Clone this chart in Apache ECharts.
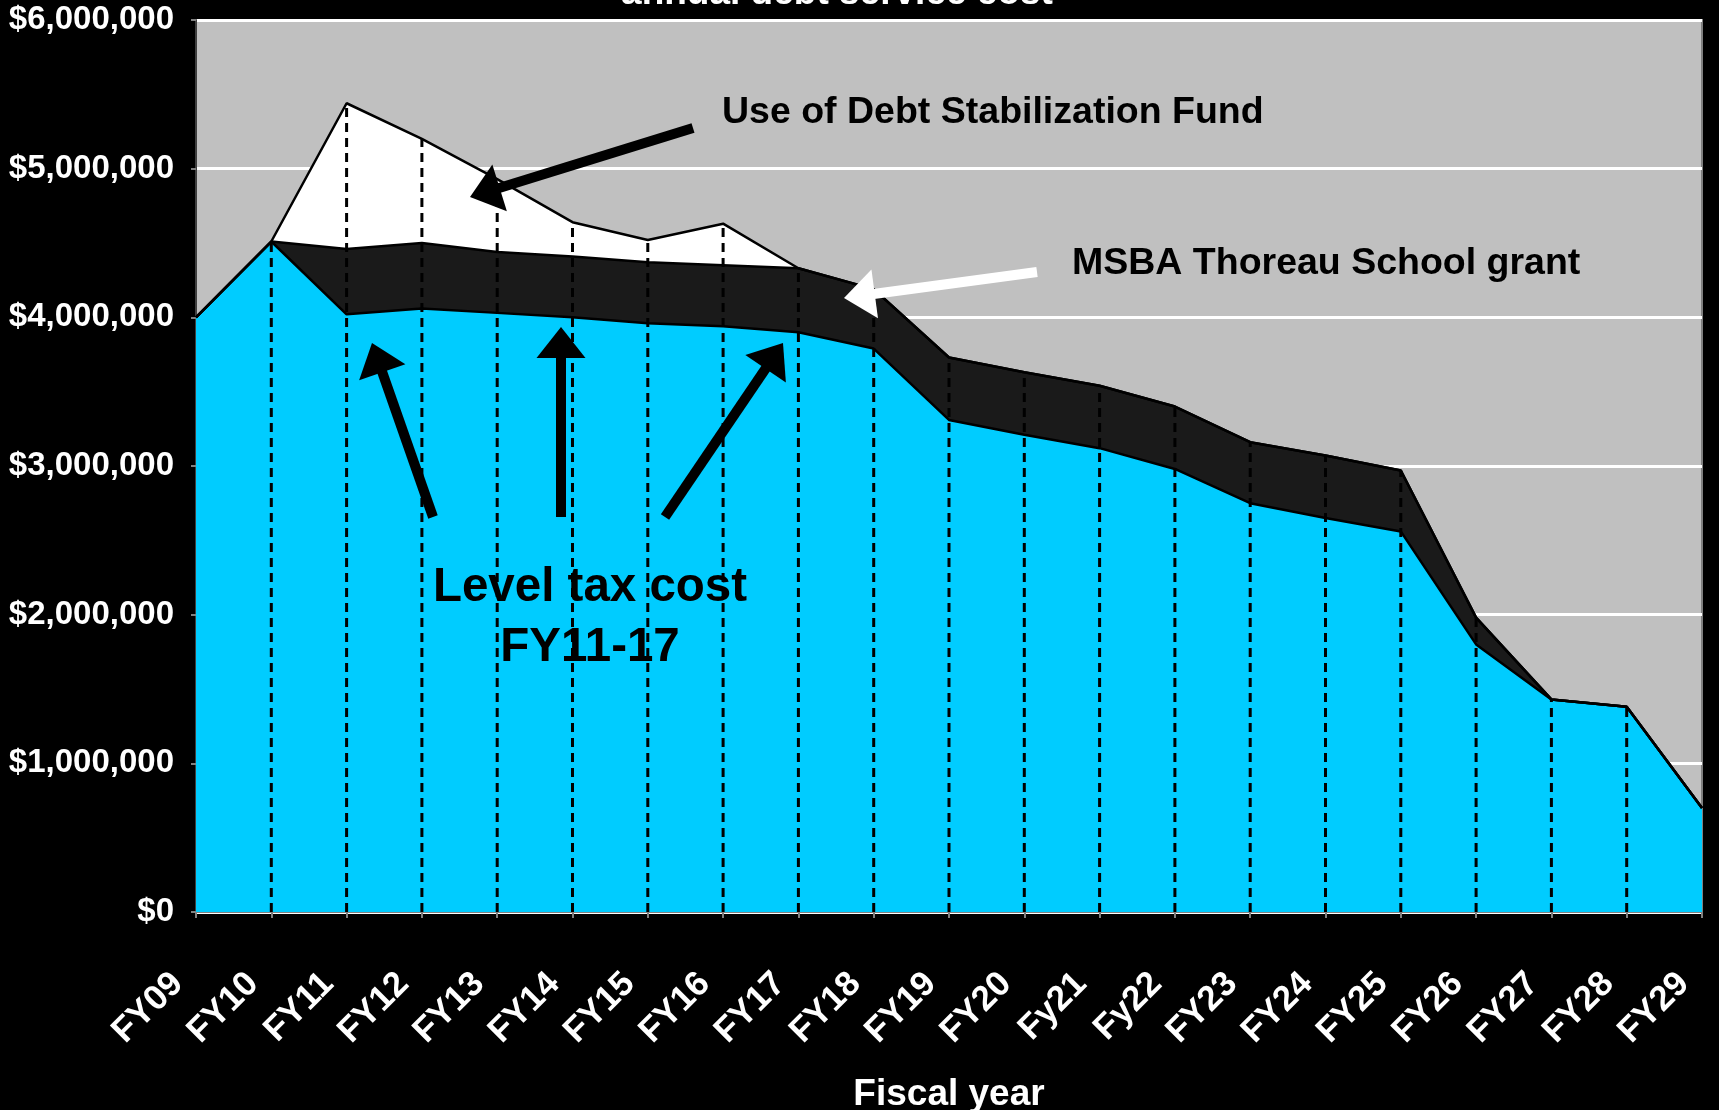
<!DOCTYPE html>
<html>
<head>
<meta charset="utf-8">
<title>annual debt service cost</title>
<script src="https://cdn.jsdelivr.net/npm/echarts@6/dist/echarts.min.js"></script>
<style>
  html, body { margin: 0; padding: 0; background: #000; }
  #chart { width: 1719px; height: 1110px; }
</style>
</head>
<body>
<div id="chart"></div>
<script>
// ── Data ────────────────────────────────────────────────────────────────────
const YEARS = ['FY09','FY10','FY11','FY12','FY13','FY14','FY15','FY16','FY17','FY18','FY19',
               'FY20','Fy21','Fy22','FY23','FY24','FY25','FY26','FY27','FY28','FY29'];

// level tax cost (blue, bottom layer)
const LEVEL_TAX = [4000000, 4510000, 4020000, 4060000, 4030000, 4000000, 3960000, 3940000, 3900000, 3790000, 3310000,
                   3210000, 3120000, 2980000, 2750000, 2650000, 2560000, 1800000, 1430000, 1380000, 700000];
// MSBA Thoreau School grant (black, middle layer)
const MSBA_GRANT = [0, 0, 440000, 440000, 410000, 410000, 410000, 410000, 430000, 400000, 420000,
                    420000, 420000, 420000, 410000, 420000, 410000, 180000, 0, 0, 0];
// use of Debt Stabilization Fund (white, top layer)
const DEBT_FUND = [0, 0, 980000, 700000, 490000, 230000, 150000, 280000, 0, 0, 0,
                   0, 0, 0, 0, 0, 0, 0, 0, 0, 0];

const Y_MIN = 0, Y_MAX = 6000000, Y_STEP = 1000000;

// total per year, for the dashed drop lines
const TOTALS = YEARS.map((_, i) => LEVEL_TAX[i] + MSBA_GRANT[i] + DEBT_FUND[i]);

const FONT = '"Liberation Sans", Arial, sans-serif';

// ── Arrow helper (annotation graphics, pixel space) ─────────────────────────
function arrow(x1, y1, x2, y2, color) {
  const HL = 31, HW = 49, W = 10;
  const dx = x2 - x1, dy = y2 - y1;
  const len = Math.sqrt(dx * dx + dy * dy);
  const ux = dx / len, uy = dy / len;
  const bx = x2 - ux * HL, by = y2 - uy * HL;
  const px = -uy, py = ux;
  return [
    {
      type: 'line', z: 100,
      shape: { x1: x1, y1: y1, x2: bx + ux * 3, y2: by + uy * 3 },
      style: { stroke: color, lineWidth: W, lineCap: 'butt' }
    },
    {
      type: 'polygon', z: 100,
      shape: { points: [[x2, y2], [bx + px * HW / 2, by + py * HW / 2], [bx - px * HW / 2, by - py * HW / 2]] },
      style: { fill: color }
    }
  ];
}

function label(text, x, y, size, color, align) {
  return {
    type: 'text',
    x: x, y: y, z: 100,
    style: {
      text: text,
      fill: color,
      font: 'bold ' + size + 'px ' + FONT,
      align: align || 'left',
      verticalAlign: 'middle'
    }
  };
}

const chart = echarts.init(document.getElementById('chart'));

chart.setOption({
  backgroundColor: '#000',
  animation: false,
  grid: {
    left: 196, right: 17, top: 20, bottom: 198,
    containLabel: false,
    outerBoundsMode: 'none',
    show: true,
    backgroundColor: '#c0c0c0',
    borderColor: '#808080',
    borderWidth: 2
  },
  xAxis: {
    type: 'category',
    data: YEARS,
    boundaryGap: false,
    name: 'Fiscal year',
    nameLocation: 'middle',
    nameGap: 164,
    nameTextStyle: { color: '#fff', fontFamily: FONT, fontWeight: 'bold', fontSize: 37 },
    axisLine: { show: true, lineStyle: { color: '#808080', width: 2 } },
    axisTick: { show: true, alignWithLabel: true, length: 6, lineStyle: { color: '#808080', width: 2 } },
    axisLabel: {
      interval: 0,
      rotate: 45,
      margin: 48,
      padding: [0, 26, 0, 0],
      color: '#fff',
      fontFamily: FONT,
      fontWeight: 'bold',
      fontSize: 35
    },
    splitLine: { show: false }
  },
  yAxis: {
    type: 'value',
    min: Y_MIN, max: Y_MAX, interval: Y_STEP,
    axisLine: { show: true, lineStyle: { color: '#404040', width: 2 } },
    axisTick: { show: true, length: 5, lineStyle: { color: '#808080', width: 2 } },
    axisLabel: {
      margin: 22,
      color: '#fff',
      fontFamily: FONT,
      fontWeight: 'bold',
      fontSize: 33,
      formatter: v => '$' + v.toLocaleString('en-US')
    },
    splitLine: { show: true, lineStyle: { color: '#fff', width: 3 } }
  },
  series: [
    {
      name: 'Level tax cost',
      type: 'line',
      stack: 'cost',
      data: LEVEL_TAX,
      symbol: 'none',
      lineStyle: { color: '#000', width: 2.5 },
      areaStyle: { color: '#00ccff', opacity: 1 },
      z: 2
    },
    {
      name: 'MSBA Thoreau School grant',
      type: 'line',
      stack: 'cost',
      data: MSBA_GRANT,
      symbol: 'none',
      lineStyle: { color: '#000', width: 2.5 },
      areaStyle: { color: '#1a1a1a', opacity: 1 },
      z: 2
    },
    {
      name: 'Use of Debt Stabilization Fund',
      type: 'line',
      stack: 'cost',
      data: DEBT_FUND,
      symbol: 'none',
      lineStyle: { color: '#000', width: 2.5 },
      areaStyle: { color: '#fff', opacity: 1 },
      z: 2
    },
    {
      // dashed drop lines from each year's total down to the axis
      type: 'custom',
      data: TOTALS.map((v, i) => [i, v]),
      z: 3,
      silent: true,
      renderItem(params, api) {
        const i = api.value(0);
        if (i === 0 || i === YEARS.length - 1) return null;
        const p0 = api.coord([i, 0]);
        const p1 = api.coord([i, api.value(1)]);
        return {
          type: 'line',
          shape: { x1: p0[0], y1: p0[1], x2: p1[0], y2: p1[1] },
          style: { stroke: '#000', lineWidth: 3, lineDash: [9, 6] }
        };
      }
    }
  ],
  graphic: [
    label('annual debt service cost', 837, -6, 37, '#fff', 'center'),
    label('Use of Debt Stabilization Fund', 722, 113, 37.5, '#000'),
    label('MSBA Thoreau School grant', 1072, 264, 37.5, '#000'),
    label('Level tax cost', 590, 588, 47.5, '#000', 'center'),
    label('FY11-17', 590, 648, 47.5, '#000', 'center'),
    ...arrow(693, 128, 470, 197, '#000'),
    ...arrow(1037, 272, 844, 298, '#fff'),
    ...arrow(433, 517, 372, 343, '#000'),
    ...arrow(561, 517, 561, 327, '#000'),
    ...arrow(665, 517, 783, 343, '#000')
  ]
});
</script>
</body>
</html>
